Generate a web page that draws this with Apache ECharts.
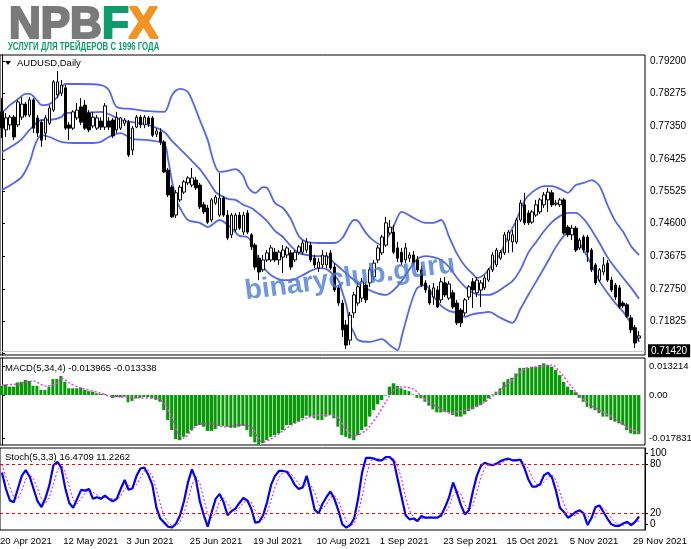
<!DOCTYPE html>
<html><head><meta charset="utf-8">
<script src="https://cdn.jsdelivr.net/npm/echarts@6/dist/echarts.min.js"></script>
<style>html,body{margin:0;padding:0;background:#fff}#c{width:691px;height:549px}</style>
</head><body><div id="c"></div>
<script>
const tickLabels = ['20 Apr 2021','12 May 2021','3 Jun 2021','25 Jun 2021','19 Jul 2021','10 Aug 2021','1 Sep 2021','23 Sep 2021','15 Oct 2021','5 Nov 2021','29 Nov 2021'];
const priceTicks = [0.792,0.78275,0.7735,0.76425,0.75525,0.746,0.73675,0.7275,0.71825,0.70925];

const opens = [.7776,.7725,.7739,.7761,.7739,.7761,.7798,.7767,.7810,.7759,
.7747,.7716,.7744,.7781,.7824,.7829,.7844,.7739,.7730,.7759,
.7790,.7795,.7773,.7736,.7730,.7750,.7733,.7750,.7753,.7725,
.7730,.7744,.7747,.7668,.7733,.7761,.7739,.7759,.7759,.7713,
.7719,.7691,.7611,.7563,.7484,.7527,.7549,.7575,.7569,.7583,
.7569,.7513,.7504,.7470,.7518,.7484,.7532,.7484,.7428,.7442,
.7484,.7436,.7490,.7428,.7399,.7362,.7329,.7357,.7357,.7379,
.7357,.7365,.7371,.7377,.7357,.7379,.7379,.7385,.7399,.7362,
.7334,.7343,.7343,.7377,.7337,.7278,.7235,.7173,.7130,.7207,
.7235,.7249,.7286,.7292,.7309,.7357,.7377,.7399,.7433,.7436,
.7391,.7379,.7357,.7362,.7371,.7357,.7329,.7292,.7272,.7252,
.7272,.7244,.7292,.7249,.7264,.7235,.7215,.7207,.7252,.7295,
.7264,.7272,.7278,.7300,.7329,.7343,.7362,.7377,.7413,.7408,
.7408,.7470,.7513,.7490,.7464,.7484,.7493,.7513,.7527,.7547,
.7515,.7513,.7527,.7450,.7428,.7447,.7391,.7422,.7422,.7385,
.7343,.7300,.7323,.7348,.7300,.7286,.7278,.7235,.7230,.7193,
.7165,.7136];
const closes = [.7730,.7759,.7761,.7705,.7804,.7798,.7767,.7810,.7730,.7716,
.7696,.7759,.7787,.7861,.7861,.7852,.7730,.7730,.7776,.7781,
.7747,.7730,.7725,.7761,.7759,.7733,.7793,.7733,.7708,.7761,
.7759,.7753,.7654,.7730,.7761,.7739,.7761,.7742,.7710,.7722,
.7691,.7606,.7541,.7479,.7547,.7563,.7578,.7589,.7589,.7561,
.7507,.7493,.7464,.7527,.7535,.7532,.7484,.7419,.7484,.7484,
.7447,.7484,.7436,.7394,.7337,.7323,.7357,.7377,.7391,.7357,
.7379,.7385,.7391,.7337,.7379,.7394,.7405,.7408,.7357,.7343,
.7351,.7371,.7368,.7334,.7272,.7235,.7159,.7116,.7201,.7258,
.7281,.7295,.7244,.7329,.7348,.7391,.7422,.7462,.7450,.7379,
.7362,.7351,.7391,.7371,.7348,.7329,.7286,.7272,.7235,.7278,
.7224,.7295,.7258,.7289,.7224,.7179,.7179,.7244,.7281,.7272,
.7300,.7292,.7306,.7329,.7371,.7385,.7379,.7428,.7436,.7428,
.7470,.7518,.7462,.7462,.7493,.7513,.7527,.7541,.7549,.7513,
.7518,.7527,.7433,.7428,.7447,.7385,.7413,.7385,.7379,.7329,
.7292,.7329,.7343,.7300,.7272,.7252,.7224,.7227,.7198,.7159,
.7122,.7142];
const lows = [.7702,.7705,.7725,.7696,.7733,.7753,.7761,.7761,.7716,.7705,
.7677,.7696,.7739,.7776,.7815,.7821,.7725,.7696,.7725,.7753,
.7739,.7725,.7719,.7730,.7725,.7725,.7725,.7725,.7702,.7716,
.7725,.7736,.7648,.7654,.7730,.7730,.7730,.7733,.7705,.7705,
.7682,.7603,.7535,.7476,.7476,.7521,.7544,.7569,.7563,.7555,
.7501,.7487,.7459,.7464,.7513,.7479,.7479,.7413,.7419,.7436,
.7442,.7428,.7430,.7385,.7329,.7300,.7323,.7351,.7351,.7351,
.7343,.7320,.7362,.7329,.7351,.7371,.7371,.7377,.7351,.7334,
.7323,.7334,.7334,.7329,.7266,.7227,.7139,.7105,.7116,.7193,
.7227,.7238,.7235,.7281,.7300,.7348,.7371,.7394,.7428,.7374,
.7351,.7343,.7348,.7351,.7340,.7323,.7281,.7264,.7230,.7230,
.7221,.7235,.7252,.7244,.7218,.7173,.7167,.7198,.7244,.7221,
.7252,.7224,.7272,.7295,.7323,.7337,.7357,.7371,.7377,.7379,
.7402,.7464,.7456,.7456,.7459,.7479,.7487,.7504,.7493,.7507,
.7510,.7507,.7428,.7422,.7413,.7379,.7385,.7377,.7351,.7323,
.7286,.7295,.7314,.7295,.7266,.7244,.7218,.7221,.7193,.7150,
.7108,.7127];
const highs = [.7815,.7773,.7767,.7767,.7810,.7818,.7804,.7818,.7815,.7767,
.7753,.7767,.7795,.7866,.7892,.7866,.7852,.7747,.7781,.7801,
.7815,.7810,.7781,.7776,.7767,.7761,.7801,.7761,.7759,.7776,
.7761,.7759,.7753,.7736,.7767,.7767,.7767,.7764,.7764,.7730,
.7730,.7696,.7617,.7569,.7555,.7569,.7583,.7594,.7617,.7592,
.7575,.7521,.7513,.7532,.7541,.7603,.7538,.7498,.7490,.7490,
.7493,.7493,.7498,.7433,.7405,.7371,.7371,.7385,.7399,.7391,
.7385,.7399,.7396,.7385,.7385,.7399,.7413,.7419,.7408,.7371,
.7362,.7385,.7379,.7385,.7348,.7286,.7244,.7187,.7210,.7266,
.7292,.7306,.7295,.7337,.7357,.7399,.7428,.7479,.7470,.7456,
.7408,.7391,.7405,.7379,.7382,.7368,.7340,.7300,.7286,.7292,
.7283,.7306,.7309,.7297,.7272,.7244,.7221,.7249,.7286,.7306,
.7309,.7300,.7314,.7334,.7379,.7391,.7385,.7436,.7442,.7442,
.7476,.7527,.7547,.7498,.7498,.7527,.7532,.7549,.7561,.7555,
.7527,.7532,.7532,.7456,.7456,.7453,.7419,.7428,.7428,.7391,
.7348,.7334,.7365,.7357,.7309,.7292,.7286,.7241,.7235,.7201,
.7173,.7156];

const bbUpper = [[0,.7773],[2,.7795],[4,.7812],[6,.7827],[7,.7827],[9,.7807],[10,.7795],[12,.7798],[14,.7818],[16,.7855],[20,.7855],[25,.7852],[27,.7838],[29,.7790],[33,.7784],[37,.7778],[41,.7776],[43,.7824],[45,.7841],[47,.7832],[50,.7753],[52,.7696],[53,.7654],[54,.7620],[55,.7606],[57,.7609],[59,.7614],[61,.7594],[62,.7566],[63,.7552],[64,.7547],[66,.7563],[67,.7561],[69,.7518],[71,.7504],[73,.7473],[75,.7425],[77,.7408],[80,.7405],[84,.7405],[86,.7419],[88,.7459],[89,.7470],[90,.7467],[92,.7433],[94,.7411],[96,.7399],[97,.7413],[99,.7453],[101,.7493],[104,.7476],[107,.7462],[109,.7462],[111,.7470],[113,.7422],[115,.7374],[117,.7340],[119,.7317],[120,.7306],[122,.7317],[124,.7345],[126,.7377],[128,.7425],[130,.7470],[132,.7524],[134,.7549],[137,.7566],[139,.7566],[141,.7558],[143,.7547],[145,.7569],[147,.7575],[149,.7583],[151,.7566],[153,.7513],[155,.7467],[157,.7436],[159,.7396],[161,.7371]];
const bbMid = [[0,.7662],[3,.7682],[5,.7699],[7,.7725],[10,.7753],[12,.7753],[15,.7761],[16,.7773],[20,.7773],[25,.7776],[27,.7770],[30,.7753],[33,.7747],[37,.7739],[41,.7719],[43,.7693],[46,.7660],[48,.7637],[50,.7614],[52,.7583],[54,.7549],[55,.7541],[57,.7530],[59,.7527],[61,.7513],[63,.7504],[65,.7487],[67,.7467],[69,.7439],[71,.7422],[73,.7396],[75,.7377],[77,.7371],[79,.7368],[82,.7368],[84,.7348],[86,.7329],[88,.7309],[91,.7283],[94,.7266],[97,.7258],[99,.7272],[101,.7297],[103,.7331],[105,.7360],[107,.7368],[109,.7365],[111,.7357],[113,.7337],[115,.7306],[117,.7281],[119,.7264],[121,.7258],[123,.7258],[125,.7266],[127,.7281],[129,.7297],[131,.7329],[133,.7377],[135,.7408],[137,.7439],[139,.7464],[141,.7481],[143,.7490],[145,.7490],[147,.7473],[149,.7442],[151,.7405],[153,.7365],[155,.7334],[157,.7306],[159,.7278],[161,.7247]];
const bbLower = [[0,.7555],[3,.7575],[5,.7592],[7,.7634],[8,.7671],[9,.7699],[10,.7710],[12,.7705],[15,.7691],[18,.7688],[23,.7688],[25,.7691],[27,.7705],[30,.7716],[32,.7705],[33,.7699],[37,.7696],[41,.7685],[42,.7640],[43,.7578],[44,.7527],[45,.7504],[47,.7470],[50,.7462],[52,.7450],[55,.7470],[58,.7447],[60,.7425],[62,.7422],[63,.7408],[64,.7379],[66,.7337],[68,.7314],[71,.7300],[73,.7300],[76,.7314],[78,.7326],[80,.7334],[82,.7331],[84,.7312],[85,.7300],[86,.7266],[87,.7230],[88,.7173],[89,.7150],[90,.7130],[93,.7125],[96,.7133],[97,.7127],[98,.7116],[99,.7108],[100,.7102],[101,.7139],[102,.7181],[103,.7221],[104,.7255],[105,.7278],[107,.7286],[109,.7255],[111,.7227],[113,.7213],[115,.7207],[117,.7196],[119,.7204],[121,.7207],[123,.7210],[126,.7193],[129,.7179],[131,.7218],[133,.7258],[137,.7334],[140,.7394],[142,.7425],[143,.7433],[144,.7436],[145,.7422],[147,.7385],[149,.7343],[151,.7297],[153,.7264],[155,.7235],[157,.7210],[159,.7176],[161,.7125]];

const macdHist = [.0033,.0038,.0030,.0030,.0045,.0047,.0054,.0050,.0033,.0033,
.0018,.0018,.0030,.0057,.0057,.0068,.0047,.0024,.0024,.0024,
.0026,.0018,.0014,.0012,.0006,.0004,.0003,.0001,-.0010,-.0007,
-.0008,-.0006,-.0026,-.0021,-.0012,-.0010,-.0007,-.0008,-.0012,-.0017,
-.0024,-.0054,-.0089,-.0125,-.0157,-.0161,-.0149,-.0137,-.0125,-.0111,
-.0107,-.0113,-.0128,-.0128,-.0121,-.0110,-.0110,-.0113,-.0117,-.0117,
-.0113,-.0110,-.0125,-.0149,-.0169,-.017831,-.0172,-.0161,-.0149,-.0143,
-.0137,-.0125,-.0107,-.0107,-.0101,-.0095,-.0083,-.0074,-.0077,-.0083,
-.0089,-.0089,-.0077,-.0071,-.0083,-.0113,-.0143,-.0149,-.0155,-.0161,
-.0143,-.0125,-.0113,-.0077,-.0054,-.0033,-.0018,-.0002,.0030,.0042,
.0033,.0024,.0018,.0014,.0002,-.0010,-.0012,-.0024,-.0038,-.0051,
-.0062,-.0062,-.0060,-.0062,-.0071,-.0077,-.0077,-.0069,-.0057,-.0051,
-.0042,-.0036,-.0024,-.0012,.0002,.0012,.0024,.0047,.0057,.0062,
.0077,.0097,.0097,.0097,.0101,.0101,.0107,.0113,.0107,.0101,
.0089,.0071,.0047,.0030,.0018,.0010,-.0010,-.0024,-.0042,-.0048,
-.0054,-.0065,-.0077,-.0077,-.0089,-.0095,-.0101,-.0107,-.0125,-.0137,
-.0140,-.013965];
const macdSignal = [[0,.0036],[4,.0039],[8,.0050],[11,.0032],[14,.0043],[15,.0061],[17,.0043],[20,.0025],[25,.0007],[27,-.0004],[30,-.0007],[34,-.0011],[39,-.0011],[41,-.0029],[42,-.0054],[43,-.0079],[44,-.0125],[45,-.0146],[46,-.0154],[48,-.0125],[50,-.0103],[53,-.0103],[56,-.0114],[60,-.0107],[63,-.0114],[65,-.0161],[66,-.0168],[68,-.0157],[71,-.0128],[74,-.0100],[77,-.0082],[80,-.0071],[83,-.0071],[85,-.0082],[87,-.0125],[89,-.0146],[92,-.0125],[95,-.0071],[97,-.0025],[99,.0018],[101,.0029],[104,.0021],[106,-.0004],[108,-.0025],[111,-.0050],[113,-.0064],[116,-.0057],[119,-.0046],[122,-.0025],[125,.0007],[129,.0054],[132,.0093],[135,.0100],[139,.0107],[141,.0082],[144,.0029],[146,-.0004],[149,-.0039],[152,-.0061],[155,-.0086],[158,-.0114],[161,-.013338]];

const stochK = [70,50,36,34,50,66,73,65,50,35,
28,39,55,79,83,76,51,33,27,38,
49,48,50,38,40,38,42,38,35,38,
50,61,49,51,66,75,76,67,55,28,
14,9,4,3,8,18,35,58,74,62,
35,18,4,22,38,44,34,18,23,26,
33,39,36,26,9,10,18,34,55,66,
72,72,71,64,55,50,52,66,47,25,
20,32,40,47,38,24,7,3,6,14,
38,70,88,88,87,85,85,89,89,84,
62,40,18,13,14,11,17,15,15,15,
15,18,28,40,58,45,30,19,24,47,
66,78,82,80,79,81,84,86,87,85,
85,86,76,62,53,53,56,67,70,64,
48,27,22,15,18,22,24,20,6,15,
28,30,22,14,7,5,5,8,10,6,
10,16.4709];
const stochD = [80,65,52,40,38,48,62,68,62,50,
38,33,40,56,72,80,70,53,37,32,
38,45,49,46,43,39,40,39,38,37,
41,50,54,54,55,64,72,73,66,50,
32,17,9,5,5,10,20,37,55,65,
57,38,19,15,21,35,39,32,25,22,
27,33,36,34,24,15,12,21,36,52,
64,70,72,69,63,56,52,56,55,46,
31,26,31,40,42,36,23,11,5,8,
19,41,65,82,88,87,86,86,88,87,
78,62,40,24,15,13,14,14,16,15,
15,16,20,29,42,48,44,31,24,30,
46,64,75,80,80,80,81,84,86,86,
86,85,82,75,64,56,54,59,64,67,
61,46,32,21,18,18,21,22,17,14,
16,24,27,22,14,9,6,6,8,8,
9,11.2262];

const N = 163;
const slots = Array.from({length: N}, (_, i) => String(i));
const candles = opens.map((o, i) => [o, closes[i], lows[i], highs[i]]);
const lastPrice = closes[closes.length - 1];
const FONT = 'Liberation Sans';
const FS = 9.5;
const FSY = 10;

const chart = echarts.init(document.getElementById('c'), null, {renderer: 'canvas'});
const hiddenCat = (g) => ({type: 'category', gridIndex: g, data: slots, show: false});
const hiddenVal = (g) => ({type: 'value', gridIndex: g, min: -0.5, max: N - 0.5, show: false});
const band = (data) => ({type: 'line', xAxisIndex: 1, yAxisIndex: 0, data, showSymbol: false, symbol: 'none', smooth: 0.3, lineStyle: {color: '#5566ee', width: 1.8}, silent: true, z: 3});
const labelStyle = {color: '#000', fontSize: FS, fontFamily: FONT};
const yLabelStyle = {color: '#000', fontSize: FSY, fontFamily: FONT};
const logoPart = (c) => ({fill: c, stroke: c, lineWidth: 2.2, fontSize: 44, fontWeight: 'bold', fontFamily: FONT});

chart.setOption({
  animation: false,
  backgroundColor: '#fff',
  textStyle: {fontFamily: FONT},
  grid: [
    {left: 0, top: 55, width: 645, height: 300, show: true, borderColor: '#000', borderWidth: 1, backgroundColor: 'transparent', outerBoundsMode: 'none'},
    {left: 0, top: 358, width: 645, height: 87, show: true, borderColor: '#000', borderWidth: 1, backgroundColor: 'transparent', outerBoundsMode: 'none'},
    {left: 0, top: 448, width: 645, height: 82, show: true, borderColor: '#000', borderWidth: 1, backgroundColor: 'transparent', outerBoundsMode: 'none'}
  ],
  xAxis: [
    hiddenCat(0), hiddenVal(0), hiddenCat(1), hiddenVal(1),
    {type: 'category', gridIndex: 2, data: slots,
     axisLine: {show: false}, axisTick: {show: false}, splitLine: {show: false},
     axisLabel: Object.assign({
       interval: (idx) => idx >= 1 && (idx - 1) % 16 === 0,
       formatter: (v, idx) => tickLabels[(idx - 1) / 16] || '',
       align: 'left', margin: 6, padding: [0, 0, 0, -6]
     }, labelStyle)}
  ],
  yAxis: [
    {type: 'value', gridIndex: 0, position: 'right', min: 0.7088, max: 0.7937, splitLine: {show: false},
     axisLine: {show: true, lineStyle: {color: '#000'}},
     axisTick: {show: true, length: 3, customValues: priceTicks, lineStyle: {color: '#000'}},
     axisLabel: Object.assign({customValues: priceTicks, formatter: (v) => v.toFixed(5), margin: 5}, yLabelStyle)},
    {type: 'value', gridIndex: 1, position: 'right', min: -0.017831, max: 0.013214, splitLine: {show: false},
     axisLine: {show: true, lineStyle: {color: '#000'}},
     axisTick: {show: true, length: 3, customValues: [0.01035, 0, -0.01535], lineStyle: {color: '#000'}},
     axisLabel: Object.assign({customValues: [0.01035, 0, -0.01535], margin: 4,
       formatter: (v) => v > 0.005 ? '0.013214' : (v < -0.005 ? '-0.017831' : '0.00')}, labelStyle)},
    {type: 'value', gridIndex: 2, position: 'right', min: 0, max: 100, splitLine: {show: false},
     axisLine: {show: true, lineStyle: {color: '#000'}},
     axisTick: {show: true, length: 3, customValues: [93, 80, 20, 7], lineStyle: {color: '#000'}},
     axisLabel: Object.assign({customValues: [93, 80, 20, 7], margin: 5,
       formatter: (v) => ({93: '100', 80: '80', 20: '20', 7: '0'})[v]}, yLabelStyle)}
  ],
  series: [
    {type: 'candlestick', xAxisIndex: 0, yAxisIndex: 0, data: candles, barWidth: 3, z: 4,
     itemStyle: {color: '#fff', color0: '#000', borderColor: '#000', borderColor0: '#000', borderWidth: 1},
     markLine: {silent: true, symbol: ['none', 'none'], animation: false,
       lineStyle: {color: '#c8c8c8', width: 1, type: 'solid'},
       label: {show: true, position: 'end', formatter: lastPrice.toFixed(5), color: '#fff', backgroundColor: '#000',
               padding: [2, 3, 1, 3], fontSize: FSY, fontFamily: FONT, distance: 3},
       data: [{yAxis: lastPrice}]}},
    band(bbUpper), band(bbMid), band(bbLower),
    {type: 'bar', xAxisIndex: 2, yAxisIndex: 1, data: macdHist, barWidth: 4, silent: true,
     itemStyle: {color: new echarts.graphic.LinearGradient(0, 0, 1, 0, [
       {offset: 0, color: '#089808'}, {offset: 0.7, color: '#089808'}, {offset: 0.72, color: '#a4dea4'}, {offset: 1, color: '#a4dea4'}])}},
    {type: 'line', xAxisIndex: 3, yAxisIndex: 1, data: macdSignal, showSymbol: false, symbol: 'none', smooth: 0.3, silent: true, z: 5,
     lineStyle: {color: '#ff33ff', width: 1.5, type: [2, 2]}},
    {type: 'line', xAxisIndex: 4, yAxisIndex: 2, data: stochD, showSymbol: false, symbol: 'none', silent: true, z: 3,
     lineStyle: {color: '#ff00ff', width: 1, type: [2, 2]}},
    {type: 'line', xAxisIndex: 4, yAxisIndex: 2, data: stochK, showSymbol: false, symbol: 'none', silent: true, z: 4,
     lineStyle: {color: '#0000ff', width: 2.2},
     markLine: {silent: true, symbol: ['none', 'none'], label: {show: false}, animation: false,
       lineStyle: {color: '#ff0000', width: 1, type: [3, 3]}, data: [{yAxis: 80}, {yAxis: 20}]}}
  ],
  graphic: [
    {type: 'text', x: 9, y: 26, z: 100, style: {text: '{a|NPB}{b|F}{c|X}', textVerticalAlign: 'middle', verticalAlign: 'middle',
      rich: {a: logoPart('#7a7a7a'), b: logoPart('#0f9c6b'), c: logoPart('#f39322')}}},
    {type: 'text', x: 8, y: 47, z: 100, scaleX: 0.68, style: {text: 'УСЛУГИ ДЛЯ ТРЕЙДЕРОВ С 1996 ГОДА', fill: '#0f9c6b',
      font: 'bold 11.5px "Liberation Sans Narrow", "Liberation Sans"', textVerticalAlign: 'middle', verticalAlign: 'middle'}},
    {type: 'polygon', z: 100, shape: {points: [[5, 61], [11, 61], [8, 65]]}, style: {fill: '#000'}},
    {type: 'text', x: 17, y: 63, z: 100, style: {text: 'AUDUSD,Daily', fill: '#000', font: FS + 'px ' + FONT, textVerticalAlign: 'middle', verticalAlign: 'middle'}},
    {type: 'text', x: 5, y: 368, z: 100, style: {text: 'MACD(5,34,4) -0.013965 -0.013338', fill: '#000', font: FS + 'px ' + FONT, textVerticalAlign: 'middle', verticalAlign: 'middle'}},
    {type: 'text', x: 5, y: 457, z: 100, style: {text: 'Stoch(5,3,3) 16.4709 11.2262', fill: '#000', font: FS + 'px ' + FONT, textVerticalAlign: 'middle', verticalAlign: 'middle'}},
    {type: 'text', x: 350, y: 278, rotation: 0.13, z: 100, style: {text: 'binaryclub.guru', fill: 'rgba(70,122,214,0.78)',
      font: 'bold 28px Liberation Sans', textAlign: 'center', align: 'center', textVerticalAlign: 'middle', verticalAlign: 'middle'}}
  ]
});
</script></body></html>
